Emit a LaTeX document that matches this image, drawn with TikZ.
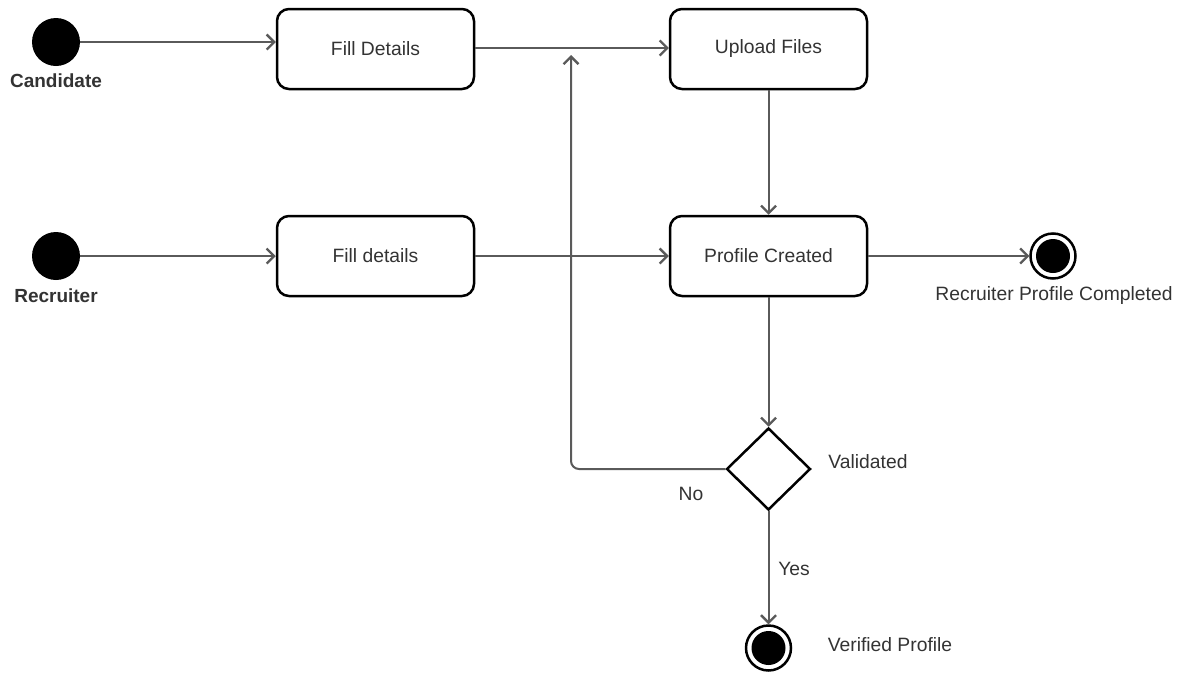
\documentclass[tikz,border=0pt]{standalone}
\usepackage{fontspec}
\setmainfont{Liberation Sans}
\usetikzlibrary{arrows.meta,shapes.geometric}
\definecolor{linegray}{HTML}{5A5A5A}
\definecolor{textgray}{HTML}{333333}
\tikzset{
  state/.style={draw=black, line width=2.5pt, rounded corners=12pt, minimum width=197pt, minimum height=80pt, inner sep=0pt, font=\fontsize{19.3}{21}\selectfont, text=textgray},
  startnode/.style={circle, fill=black, minimum size=48pt, inner sep=0pt},
  endouter/.style={circle, draw=black, line width=2.5pt, fill=white, minimum size=45pt, inner sep=0pt},
  endinner/.style={circle, fill=black, minimum size=34pt, inner sep=0pt},
  decision/.style={diamond, draw=black, line width=2.5pt, minimum width=84pt, minimum height=82pt, inner sep=0pt, aspect=1},
  conn/.style={draw=linegray, line width=2pt, -{Straight Barb[length=7.5pt, width=15pt, line width=2.3pt]}},
  lbl/.style={font=\fontsize{19.3}{21}\selectfont, text=textgray, inner sep=0pt},
  blbl/.style={font=\bfseries\fontsize{19}{21}\selectfont, text=textgray, inner sep=0pt}
}
\begin{document}
\begin{tikzpicture}[x=1pt, y=-1pt]
\useasboundingbox (0,0) rectangle (1187,675);
% start nodes
\node[startnode] (cs) at (56,42) {};
\node[blbl] (csl) at (56,81) {Candidate};
\node[startnode] (rs) at (56,256) {};
\node[blbl] (rsl) at (56,296) {Recruiter};
% states
\node[state] (fd1) at (375.5,49) {Fill Details};
\node[state] (uf) at (768.5,49) {Upload Files};
\node[state] (fd2) at (375.5,256) {Fill details};
\node[state] (pc) at (768.5,256) {Profile Created};
% decision
\node[decision] (val) at (768.5,469) {};
\node[lbl] (vall) at (868,462) {Validated};
\node[lbl] (nol) at (691,494) {No};
\node[lbl] (yesl) at (794,569) {Yes};
% end nodes
\node[endouter] (e1) at (1053,256) {};
\node[endinner] (e1i) at (e1) {};
\node[lbl] (e1l) at (1054,296) {Recruiter Profile Completed};
\node[endouter] (e2) at (768.5,648) {};
\node[endinner] (e2i) at (e2) {};
\node[lbl] (e2l) at (890,645) {Verified Profile};
% coordinates
\coordinate (a1) at (fd1.west |- cs);
\coordinate (b1) at (fd1.east |- 0,48);
\coordinate (b2) at (uf.west |- 0,48);
\coordinate (lp) at (571,55);
% connectors
\draw[conn] (cs.east) -- (a1);
\draw[conn] (b1) -- (b2);
\draw[conn] (rs.east) -- (fd2.west);
\draw[conn] (fd2.east) -- (pc.west);
\draw[conn] (uf.south) -- (pc.north);
\draw[conn] (pc.east) -- (e1.west);
\draw[conn] (pc.south) -- (val.north);
\draw[conn] (val.south) -- (e2.north);
\draw[conn, rounded corners=8pt] (val.west) -- (lp |- val.west) -- (lp);
\end{tikzpicture}
\end{document}
